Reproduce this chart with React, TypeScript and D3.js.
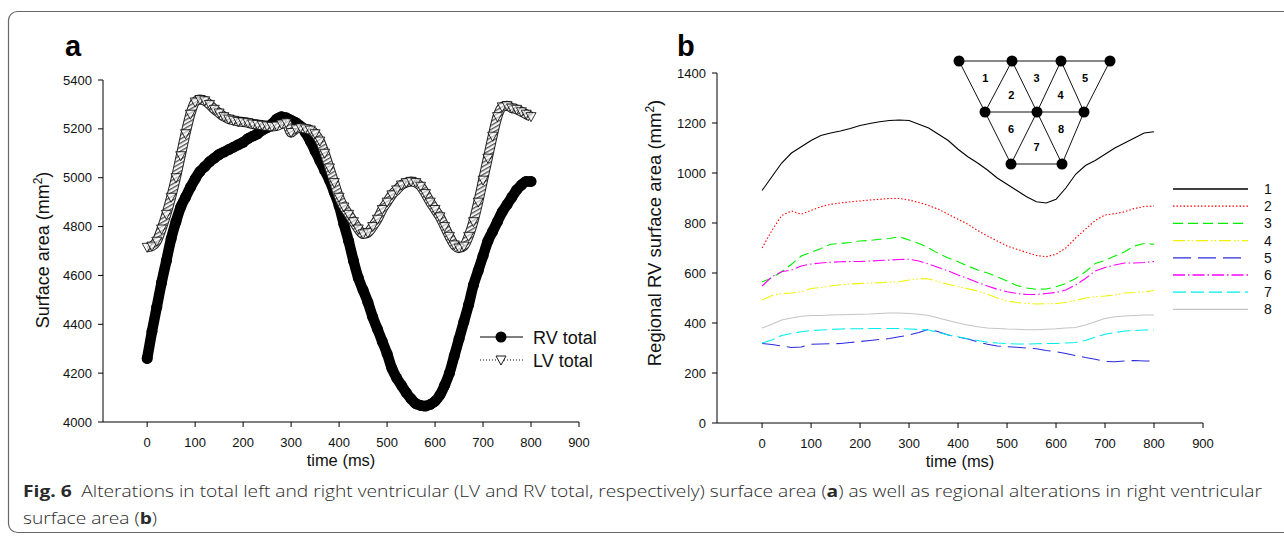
import React from 'react';
import * as d3 from 'd3';

// ---------- Panel a data (sampled every 10 ms, 0..800) ----------
const STEP_A = 10;
const rvTotal = [
  4260, 4370, 4470, 4570, 4660, 4750, 4820, 4880, 4920, 4960,
  4995, 5025, 5045, 5065, 5080, 5095, 5105, 5115, 5125, 5135,
  5145, 5160, 5170, 5180, 5195, 5205, 5220, 5240, 5250, 5245,
  5235, 5225, 5210, 5185, 5150, 5110, 5070, 5030, 4990, 4940,
  4885, 4810, 4740, 4660, 4590, 4540, 4490, 4430, 4380, 4330,
  4280, 4220, 4180, 4150, 4120, 4095, 4075, 4068, 4065, 4072,
  4085, 4110, 4150, 4200, 4270, 4340, 4410, 4480, 4560, 4620,
  4680, 4740, 4780, 4820, 4860, 4890, 4920, 4950, 4970, 4985,
  4985,
];
const lvTotal = [
  4715, 4720, 4740, 4790, 4850, 4920, 5000, 5090, 5180, 5260,
  5310, 5320, 5315, 5300, 5280, 5265, 5250, 5240, 5235, 5230,
  5228, 5225, 5220, 5218, 5215, 5212, 5210, 5212, 5220, 5225,
  5185, 5200, 5205, 5200, 5195, 5180, 5150, 5100, 5040, 4980,
  4920, 4880, 4850, 4820, 4790, 4770, 4775, 4800, 4830, 4870,
  4900, 4930, 4950, 4970, 4980, 4985, 4980, 4965, 4935, 4900,
  4870, 4840, 4800, 4760, 4725, 4712, 4720, 4760, 4820, 4900,
  4990, 5080, 5170, 5250, 5290, 5295, 5285, 5280, 5270, 5260,
  5250,
];

// ---------- Panel b data (sampled every 20 ms, 0..800) ----------
const STEP_B = 20;
const region1 = [930, 985, 1040, 1080, 1105, 1130, 1150, 1160, 1168, 1178, 1190, 1198, 1205, 1210, 1212, 1210, 1195, 1180, 1155, 1130, 1095, 1065, 1040, 1012, 980, 955, 930, 905, 885, 880, 895, 940, 995, 1030, 1050, 1075, 1100, 1120, 1140, 1160, 1165];
const region2 = [700, 770, 830, 848, 835, 850, 865, 875, 880, 885, 888, 892, 895, 898, 898, 892, 882, 870, 855, 835, 815, 795, 770, 748, 728, 708, 695, 682, 670, 665, 675, 700, 740, 775, 810, 832, 837, 845, 858, 866, 868];
const region3 = [565, 580, 605, 635, 668, 683, 698, 715, 718, 722, 728, 730, 735, 738, 745, 732, 718, 700, 678, 660, 645, 628, 612, 600, 585, 568, 550, 540, 535, 536, 545, 558, 578, 605, 638, 650, 668, 685, 708, 718, 715];
const region4 = [492, 510, 518, 520, 525, 538, 542, 548, 553, 556, 558, 560, 561, 563, 565, 572, 578, 576, 565, 555, 545, 537, 528, 515, 500, 488, 482, 478, 476, 477, 478, 482, 490, 500, 505, 508, 512, 520, 522, 525, 530];
const region5 = [318, 314, 308, 302, 304, 315, 316, 317, 318, 322, 326, 330, 334, 338, 345, 352, 362, 375, 365, 352, 344, 336, 325, 315, 308, 305, 303, 300, 297, 290, 285, 278, 270, 262, 255, 246, 245, 248, 250, 248, 248];
const region6 = [548, 585, 605, 612, 628, 636, 640, 643, 645, 646, 646, 648, 650, 652, 654, 655, 648, 636, 622, 608, 592, 578, 562, 548, 535, 525, 518, 514, 514, 518, 522, 532, 552, 578, 608, 622, 632, 640, 640, 642, 646];
const region7 = [320, 332, 350, 358, 365, 370, 372, 374, 376, 377, 377, 378, 378, 378, 378, 376, 374, 372, 362, 352, 345, 337, 330, 323, 320, 318, 316, 316, 317, 318, 318, 320, 322, 330, 343, 355, 362, 368, 370, 372, 372];
const region8 = [380, 395, 412, 420, 427, 430, 430, 432, 433, 434, 435, 436, 438, 440, 440, 438, 435, 430, 420, 410, 400, 392, 385, 380, 378, 376, 375, 373, 373, 375, 377, 380, 382, 392, 405, 418, 425, 428, 430, 432, 432];

const regionNames = ['1', '2', '3', '4', '5', '6', '7', '8'];
const regionSeries = [region1, region2, region3, region4, region5, region6, region7, region8];

const xTicks = [0, 100, 200, 300, 400, 500, 600, 700, 800, 900];
const yTicksA = [4000, 4200, 4400, 4600, 4800, 5000, 5200, 5400];
const yTicksB = [0, 200, 400, 600, 800, 1000, 1200, 1400];

const legendA = ['RV total', 'LV total'];

// styles (not data)
const regionStyles = [
  { color: '#000000', dash: null },
  { color: '#ff0000', dash: '1.5,2' },
  { color: '#00ee00', dash: '10,5' },
  { color: '#f2f200', dash: '12,3,1.5,2,1.5,3' },
  { color: '#2a2ae0', dash: '18,7' },
  { color: '#ff00ff', dash: '12,3,1.5,3' },
  { color: '#00eeee', dash: '13,5' },
  { color: '#c4c4c4', dash: null },
];

// Inset diagram nodes (layout)
const insetNodes: [number, number][] = [
  [959, 61], [1012, 61], [1061, 61], [1110, 61],
  [985, 112], [1037, 112], [1084, 112],
  [1011, 164], [1062, 164],
];
const insetEdges: [number, number][] = [
  [0, 3], [4, 6], [7, 8],
  [0, 4], [1, 4], [1, 5], [2, 5], [2, 6], [3, 6],
  [4, 7], [5, 7], [5, 8], [6, 8],
];
const insetTriangles: [string, number, number, number][] = [
  ['1', 0, 1, 4], ['2', 4, 5, 1], ['3', 1, 2, 5], ['4', 5, 6, 2], ['5', 2, 3, 6],
  ['6', 4, 5, 7], ['7', 7, 8, 5], ['8', 5, 6, 8],
];

const FONT = "'Liberation Sans', Arial, Helvetica, sans-serif";

export default function App() {
  const xA = d3.scaleLinear().domain([-92, 900]).range([103, 579]);
  const yA = d3.scaleLinear().domain([4000, 5400]).range([422, 80]);
  const xB = d3.scaleLinear().domain([-92, 900]).range([717, 1203]);
  const yB = d3.scaleLinear().domain([0, 1400]).range([423, 73]);

  const lineA = d3
    .line<number>()
    .curve(d3.curveMonotoneX)
    .x((_, i) => xA(i * STEP_A))
    .y((d) => yA(d));
  const lineB = d3
    .line<number>()
    .x((_, i) => xB(i * STEP_B))
    .y((d) => yB(d));

  const tri = 'M-5,-4L5,-4L0,5Z';

  const axisY = (x: number, y: d3.ScaleLinear<number, number>, ticks: number[], gap: number) => (
    <g>
      <line x1={x} x2={x} y1={y.range()[0]} y2={y.range()[1]} stroke="#000" strokeWidth={1} />
      {ticks.map((t) => (
        <g key={t}>
          <line x1={x - 5} x2={x} y1={y(t)} y2={y(t)} stroke="#000" />
          <text x={x - gap} y={y(t) + 4.5} textAnchor="end" fontSize={13} fontFamily={FONT} fill="#111">
            {t}
          </text>
        </g>
      ))}
    </g>
  );
  const axisX = (y0: number, x: d3.ScaleLinear<number, number>) => (
    <g>
      <line x1={x.range()[0]} x2={x.range()[1]} y1={y0} y2={y0} stroke="#000" strokeWidth={1} />
      {xTicks.map((t) => (
        <g key={t}>
          <line x1={x(t)} x2={x(t)} y1={y0} y2={y0 + 5} stroke="#000" />
          <text x={x(t)} y={y0 + 25} textAnchor="middle" fontSize={13} fontFamily={FONT} fill="#111">
            {t}
          </text>
        </g>
      ))}
    </g>
  );

  return (
    <svg
      width={1284}
      height={539}
      style={{ position: 'absolute', left: 0, top: 0, background: '#fff' }}
      xmlns="http://www.w3.org/2000/svg"
    >
      <defs>
        <pattern id="hatch" patternUnits="userSpaceOnUse" width={3.5} height={3.5} patternTransform="rotate(60)">
          <rect width={3.5} height={3.5} fill="#f6f6f6" />
          <rect width={1.3} height={3.5} fill="#555" />
        </pattern>
      </defs>
      <rect x={0} y={0} width={1284} height={539} fill="#fff" />
      {/* frame */}
      <rect x={8.5} y={11.5} width={1300} height={521} rx={9} fill="none" stroke="#666" strokeWidth={1.2} />

      {/* ---------------- Panel a ---------------- */}
      <text x={65} y={56} fontSize={29} fontWeight="bold" fontFamily={FONT}>a</text>
      {axisY(103, yA, yTicksA, 11)}
      {axisX(422, xA)}
      <text x={341} y={466} textAnchor="middle" fontSize={16.5} fontFamily={FONT} fill="#111">time (ms)</text>
      <text transform="translate(49,250) rotate(-90)" textAnchor="middle" fontSize={18} fontFamily={FONT} fill="#111">
        Surface area (mm<tspan dy={-7} fontSize={12}>2</tspan><tspan dy={7}>)</tspan>
      </text>

      {/* RV total: dense markers form a continuous band */}
      <path d={lineA(rvTotal) || ''} fill="none" stroke="#000" strokeWidth={10.5} strokeLinejoin="round" strokeLinecap="round" />
      {rvTotal.map((v, i) => (
        <circle key={'rv' + i} cx={xA(i * STEP_A)} cy={yA(v)} r={5.5} fill="#000" />
      ))}
      {/* LV total: dense open triangles form a hatched band */}
      <path d={lineA(lvTotal) || ''} fill="none" stroke="#222" strokeWidth={10} strokeLinejoin="round" />
      <path d={lineA(lvTotal) || ''} fill="none" stroke="url(#hatch)" strokeWidth={8} strokeLinejoin="round" />
      {lvTotal.map((v, i) => (
        <path
          key={'lv' + i}
          d={tri}
          transform={`translate(${xA(i * STEP_A)},${yA(v)})`}
          fill="#fff"
          fillOpacity={0.6}
          stroke="#000"
          strokeWidth={0.8}
        />
      ))}

      {/* legend a */}
      <g fontFamily={FONT} fontSize={18} fill="#111">
        <line x1={480} x2={523} y1={337} y2={337} stroke="#000" />
        <circle cx={501} cy={337} r={5.5} fill="#000" />
        <text x={533} y={343.5}>{legendA[0]}</text>
        <line x1={480} x2={523} y1={360} y2={360} stroke="#000" strokeDasharray="1,2" />
        <path d={tri} transform="translate(501,360)" fill="#fff" stroke="#000" strokeWidth={0.9} />
        <text x={533} y={366.5}>{legendA[1]}</text>
      </g>

      {/* ---------------- Panel b ---------------- */}
      <text x={677} y={56} fontSize={29} fontWeight="bold" fontFamily={FONT}>b</text>
      {axisY(717, yB, yTicksB, 11)}
      {axisX(423, xB)}
      <text x={960} y={467} textAnchor="middle" fontSize={16.5} fontFamily={FONT} fill="#111">time (ms)</text>
      <text transform="translate(661,233) rotate(-90)" textAnchor="middle" fontSize={18.5} fontFamily={FONT} fill="#111">
        Regional RV surface area (mm<tspan dy={-7} fontSize={12}>2</tspan><tspan dy={7}>)</tspan>
      </text>

      {regionSeries.map((s, k) => (
        <path
          key={'r' + k}
          d={lineB(s) || ''}
          fill="none"
          stroke={regionStyles[k].color}
          strokeWidth={1.1}
          strokeDasharray={regionStyles[k].dash || undefined}
        />
      ))}

      {/* legend b */}
      {regionNames.map((n, k) => {
        const y = 189 + k * 17.2;
        return (
          <g key={'lg' + k}>
            <line
              x1={1173}
              x2={1248}
              y1={y}
              y2={y}
              stroke={regionStyles[k].color}
              strokeWidth={1.3}
              strokeDasharray={regionStyles[k].dash || undefined}
            />
            <text x={1268} y={y + 5} textAnchor="middle" fontSize={14} fontFamily={FONT} fill="#111">
              {n}
            </text>
          </g>
        );
      })}

      {/* inset diagram */}
      <g>
        {insetEdges.map(([a, b], i) => (
          <line
            key={'e' + i}
            x1={insetNodes[a][0]}
            y1={insetNodes[a][1]}
            x2={insetNodes[b][0]}
            y2={insetNodes[b][1]}
            stroke="#111"
            strokeWidth={1}
          />
        ))}
        {insetNodes.map(([x, y], i) => (
          <circle key={'n' + i} cx={x} cy={y} r={5.5} fill="#000" />
        ))}
        {insetTriangles.map(([lab, a, b, c]) => {
          const cx = (insetNodes[a][0] + insetNodes[b][0] + insetNodes[c][0]) / 3;
          const cy = (insetNodes[a][1] + insetNodes[b][1] + insetNodes[c][1]) / 3;
          return (
            <text key={'t' + lab} x={cx} y={cy + 4} textAnchor="middle" fontSize={11} fontWeight="bold" fontFamily={FONT}>
              {lab}
            </text>
          );
        })}
      </g>

      {/* caption */}
      <g fontFamily="'Open Sans', 'Liberation Sans', sans-serif" fontSize={16} fill="#2a2a2a">
        <text x={23} y={497} textLength={1239} lengthAdjust="spacingAndGlyphs" fontWeight={300}>
          <tspan fontWeight="bold">Fig. 6</tspan>
          {'\u2002Alterations in total left and right ventricular (LV and RV total, respectively) surface area ('}
          <tspan fontWeight="bold">a</tspan>
          {') as well as regional alterations in right ventricular'}
        </text>
        <text x={23} y={524} textLength={134} lengthAdjust="spacingAndGlyphs" fontWeight={300}>
          {'surface area ('}
          <tspan fontWeight="bold">b</tspan>
          {')'}
        </text>
      </g>
    </svg>
  );
}
